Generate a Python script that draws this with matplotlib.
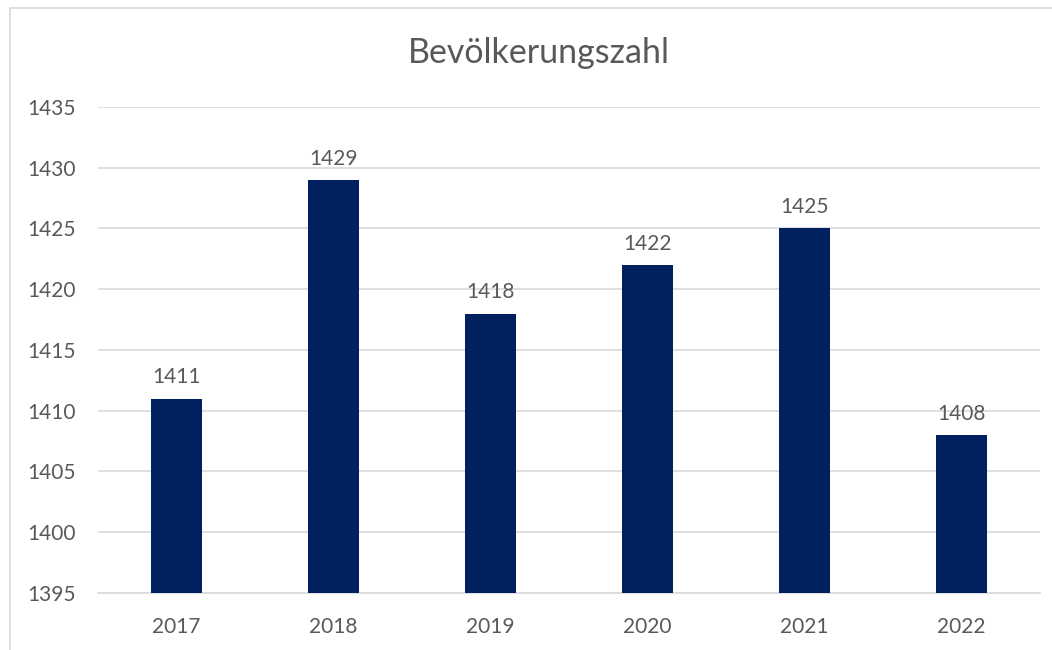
import matplotlib.pyplot as plt
from matplotlib.patches import Rectangle

# Daten
jahre = ["2017", "2018", "2019", "2020", "2021", "2022"]
werte = [1411, 1429, 1418, 1422, 1425, 1408]
y_ticks = [1395, 1400, 1405, 1410, 1415, 1420, 1425, 1430, 1435]

farbe_balken = "#002060"
farbe_text = "#595959"
farbe_gitter = "#D9D9D9"

plt.rcParams['font.family'] = ['Lato', 'DejaVu Sans']

fig = plt.figure(figsize=(10.52, 6.5), dpi=100)
ax = fig.add_axes([0.0932, 0.0877, 0.8954, 0.7477])

# Rahmen um das Diagramm
fig.patches.append(Rectangle((10 / 1052, -0.1), 1.2, 1 - 8 / 650 + 0.1,
                             transform=fig.transFigure, fill=False,
                             edgecolor=farbe_gitter, linewidth=1.2))

x = range(len(jahre))
balken = ax.bar(x, werte, width=0.32, color=farbe_balken, zorder=3)
for xi, w in zip(x, werte):
    ax.annotate(str(w), (xi, w), xytext=(0, 8), textcoords="offset points",
                ha="center", va="bottom", fontsize=15, color=farbe_text)

ax.set_xlim(-0.5, len(jahre) - 0.5)
ax.set_ylim(1395, 1435)
ax.set_yticks(y_ticks)
ax.set_xticks(list(x))
ax.set_xticklabels(jahre)
ax.tick_params(axis="both", length=0, labelsize=15, labelcolor=farbe_text)
ax.tick_params(axis="y", pad=16)
ax.tick_params(axis="x", pad=17)
ax.yaxis.grid(True, color=farbe_gitter, linewidth=1.2, zorder=0)
ax.set_axisbelow(True)
for s in ["top", "right", "left"]:
    ax.spines[s].set_visible(False)
ax.spines["bottom"].set_color(farbe_gitter)
ax.spines["bottom"].set_linewidth(1.2)

# Titel (leicht nach rechts versetzt wie im Original)
fig.text(539 / 1052, 1 - 53 / 650, "Bevölkerungszahl", ha="center", va="center",
         fontsize=24.5, color=farbe_text)

fig.savefig("out.png", dpi=100)
